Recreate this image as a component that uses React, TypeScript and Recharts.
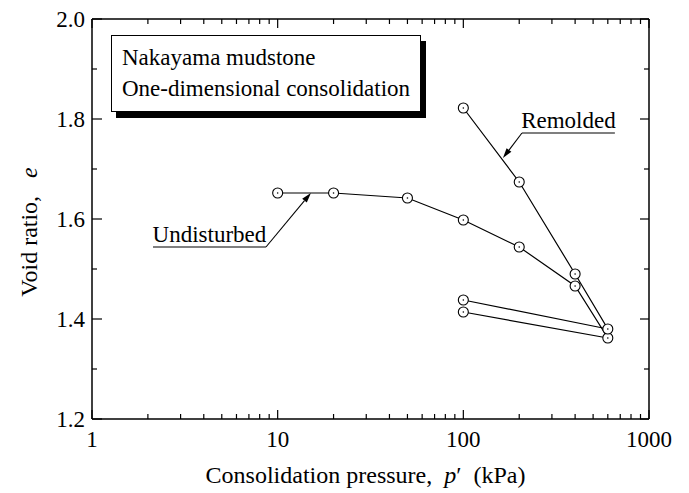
import React from "react";
import { ReferenceLine, Scatter, ScatterChart, XAxis, YAxis } from "recharts";

// e - log p' data
const undisturbedP = [10, 20, 50, 100, 200, 400, 600, 100];
const undisturbedE = [1.652, 1.652, 1.642, 1.598, 1.544, 1.466, 1.362, 1.414];
const remoldedP = [100, 200, 400, 600, 100];
const remoldedE = [1.822, 1.674, 1.49, 1.38, 1.438];

const xTicks = [
  1, 2, 3, 4, 5, 6, 7, 8, 9, 10, 20, 30, 40, 50, 60, 70, 80, 90, 100, 200, 300, 400, 500, 600, 700,
  800, 900, 1000,
];
const xMajor = [1, 10, 100, 1000];
const yTicks = [1.2, 1.3, 1.4, 1.5, 1.6, 1.7, 1.8, 1.9, 2.0];
const yMajor = [1.2, 1.4, 1.6, 1.8, 2.0];

const FONT = "'Liberation Serif', 'Times New Roman', serif";
const FS = 23;

const undisturbed = undisturbedP.map((p, i) => ({ p, e: undisturbedE[i] }));
const remolded = remoldedP.map((p, i) => ({ p, e: remoldedE[i] }));

const isMajorY = (v: number) => yMajor.some((m) => Math.abs(m - v) < 1e-6);

const BottomTick = ({ x, y, payload }: any) => {
  const major = xMajor.includes(payload.value);
  return (
    <g>
      <line x1={x} y1={y} x2={x} y2={y - (major ? 9 : 5)} stroke="#000" strokeWidth={1.2} />
      {major && (
        <text x={x} y={y + 28} textAnchor="middle" fontSize={FS} fontFamily={FONT} fill="#000">
          {payload.value}
        </text>
      )}
    </g>
  );
};

const TopTick = ({ x, y, payload }: any) => {
  const major = xMajor.includes(payload.value);
  return <line x1={x} y1={y} x2={x} y2={y + (major ? 9 : 5)} stroke="#000" strokeWidth={1.2} />;
};

const LeftTick = ({ x, y, payload }: any) => {
  const major = isMajorY(payload.value);
  return (
    <g>
      <line x1={x} y1={y} x2={x + (major ? 10 : 5)} y2={y} stroke="#000" strokeWidth={1.2} />
      {major && (
        <text
          x={x - 7}
          y={y}
          dy="0.34em"
          textAnchor="end"
          fontSize={FS}
          fontFamily={FONT}
          fill="#000"
        >
          {payload.value.toFixed(1)}
        </text>
      )}
    </g>
  );
};

const RightTick = ({ x, y, payload }: any) => {
  const major = isMajorY(payload.value);
  return <line x1={x} y1={y} x2={x - (major ? 9 : 5)} y2={y} stroke="#000" strokeWidth={1.2} />;
};

const XTitle = ({ viewBox }: any) => (
  <text
    x={viewBox.x + viewBox.width / 2 - 5}
    y={viewBox.y + 64}
    textAnchor="middle"
    fontSize={24}
    fontFamily={FONT}
    fill="#000"
  >
    Consolidation pressure,{"\u00a0\u00a0"}
    <tspan fontStyle="italic">p</tspan>
    {"\u2032\u00a0\u00a0(kPa)"}
  </text>
);

const YTitle = ({ viewBox }: any) => {
  const cx = 37;
  const cy = viewBox.y + viewBox.height / 2 + 13;
  return (
    <text
      x={cx}
      y={cy}
      transform={`rotate(-90 ${cx} ${cy})`}
      textAnchor="middle"
      fontSize={24}
      fontFamily={FONT}
      fill="#000"
    >
      Void ratio,{"\u00a0\u00a0\u00a0"}
      <tspan fontStyle="italic">e</tspan>
    </text>
  );
};

const Marker = ({ cx, cy }: any) => (
  <g>
    <circle cx={cx} cy={cy} r={5} fill="#fff" stroke="#000" strokeWidth={1.1} />
    <circle cx={cx} cy={cy} r={0.8} fill="#000" />
  </g>
);

// underline with the label sitting on it
const underline = (label: string) => (props: any) => {
  const { x1, y1, x2, y2 } = props;
  return (
    <g>
      <line x1={x1} y1={y1} x2={x2} y2={y2} stroke="#000" strokeWidth={1.1} />
      <text
        x={(x1 + x2) / 2}
        y={y1 - 5}
        textAnchor="middle"
        fontSize={FS}
        fontFamily={FONT}
        fill="#000"
      >
        {label}
      </text>
    </g>
  );
};

const Arrow = (props: any) => {
  const { x1, y1, x2, y2 } = props;
  const ang = Math.atan2(y2 - y1, x2 - x1);
  const len = 10;
  const w = 3;
  const bx = x2 - len * Math.cos(ang);
  const by = y2 - len * Math.sin(ang);
  const px = -Math.sin(ang) * w;
  const py = Math.cos(ang) * w;
  return (
    <g>
      <line x1={x1} y1={y1} x2={bx} y2={by} stroke="#000" strokeWidth={1.1} />
      <polygon points={`${x2},${y2} ${bx + px},${by + py} ${bx - px},${by - py}`} fill="#000" />
    </g>
  );
};

export default function App() {
  return (
    <div
      style={{
        position: "absolute",
        left: 0,
        top: 0,
        width: 689,
        height: 493,
        background: "#fff",
        fontFamily: FONT,
      }}
    >
      <ScatterChart width={689} height={493} margin={{ top: 0, right: 0, bottom: 0, left: 0 }}>
        <XAxis
          xAxisId="bottom"
          type="number"
          dataKey="p"
          scale="log"
          domain={[1, 1000]}
          ticks={xTicks}
          interval={0}
          height={74}
          tickSize={0}
          tickMargin={0}
          tickLine={false}
          axisLine={{ stroke: "#000", strokeWidth: 1.5 }}
          tick={<BottomTick />}
          allowDataOverflow
          label={{ content: <XTitle /> }}
        />
        <XAxis
          xAxisId="top"
          orientation="top"
          type="number"
          dataKey="p"
          scale="log"
          domain={[1, 1000]}
          ticks={xTicks}
          interval={0}
          height={19}
          tickSize={0}
          tickMargin={0}
          tickLine={false}
          axisLine={{ stroke: "#000", strokeWidth: 1.5 }}
          tick={<TopTick />}
          allowDataOverflow
        />
        <YAxis
          yAxisId="left"
          type="number"
          dataKey="e"
          domain={[1.2, 2.0]}
          ticks={yTicks}
          interval={0}
          width={92}
          tickSize={0}
          tickMargin={0}
          tickLine={false}
          axisLine={{ stroke: "#000", strokeWidth: 1.5 }}
          tick={<LeftTick />}
          allowDataOverflow
          label={{ content: <YTitle /> }}
        />
        <YAxis
          yAxisId="right"
          orientation="right"
          type="number"
          dataKey="e"
          domain={[1.2, 2.0]}
          ticks={yTicks}
          interval={0}
          width={40}
          tickSize={0}
          tickMargin={0}
          tickLine={false}
          axisLine={{ stroke: "#000", strokeWidth: 1.5 }}
          tick={<RightTick />}
          allowDataOverflow
        />

        <ReferenceLine
          xAxisId="bottom"
          yAxisId="left"
          segment={[
            { x: 2.13, y: 1.544 },
            { x: 8.65, y: 1.544 },
          ]}
          shape={underline("Undisturbed")}
        />
        <ReferenceLine
          xAxisId="bottom"
          yAxisId="left"
          segment={[
            { x: 8.65, y: 1.544 },
            { x: 15.1, y: 1.652 },
          ]}
          shape={Arrow}
        />
        <ReferenceLine
          xAxisId="bottom"
          yAxisId="left"
          segment={[
            { x: 206.9, y: 1.772 },
            { x: 655, y: 1.772 },
          ]}
          shape={underline("Remolded")}
        />
        <ReferenceLine
          xAxisId="bottom"
          yAxisId="left"
          segment={[
            { x: 206.9, y: 1.772 },
            { x: 163.4, y: 1.722 },
          ]}
          shape={Arrow}
        />

        <Scatter
          name="Undisturbed"
          xAxisId="bottom"
          yAxisId="left"
          data={undisturbed}
          line={{ stroke: "#000", strokeWidth: 1.2 }}
          lineType="joint"
          shape={<Marker />}
          isAnimationActive={false}
        />
        <Scatter
          name="Remolded"
          xAxisId="bottom"
          yAxisId="left"
          data={remolded}
          line={{ stroke: "#000", strokeWidth: 1.2 }}
          lineType="joint"
          shape={<Marker />}
          isAnimationActive={false}
        />
      </ScatterChart>

      <div
        style={{
          position: "absolute",
          left: 111,
          top: 35,
          width: 310,
          height: 77,
          boxSizing: "border-box",
          border: "1px solid #000",
          background: "#fff",
          boxShadow: "5px 6px 0 #000",
          paddingLeft: 10,
          paddingTop: 6,
          fontSize: FS,
          lineHeight: "31px",
          color: "#000",
          whiteSpace: "nowrap",
        }}
      >
        <div>Nakayama mudstone</div>
        <div>One-dimensional consolidation</div>
      </div>
    </div>
  );
}
